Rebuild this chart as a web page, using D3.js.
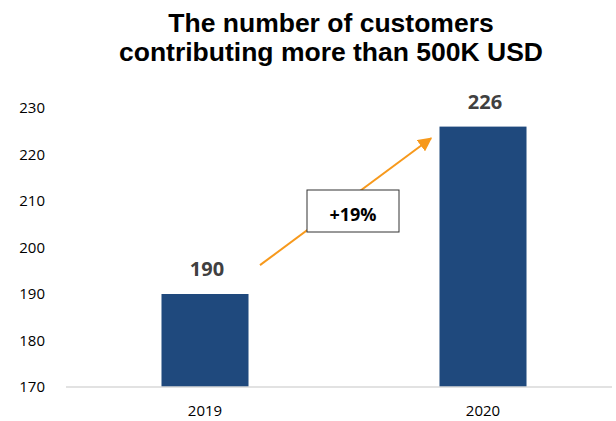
<!DOCTYPE html>
<html>
<head>
<meta charset="utf-8">
<script src="https://cdn.jsdelivr.net/npm/d3@7"></script>
<style>
  body { margin: 0; background: #fff; }
</style>
</head>
<body>
<div id="chart"></div>
<script>
// data
var years = ["2019", "2020"];
var customers = [190, 226];
var yTicks = [170, 180, 190, 200, 210, 220, 230];
var titleLines = ["The number of customers", "contributing more than 500K USD"];
var growthLabel = "+19%";

var W = 616, H = 421;

var svg = d3.select("#chart")
  .append("svg")
    .attr("width", W)
    .attr("height", H);

// scales
var x = d3.scaleBand().domain(years).range([66, 622]).padding(0);
var y = d3.scaleLinear().domain([170, 230]).range([387, 108]);
var barW = x.bandwidth() * 0.313;

// title
svg.append("text")
  .attr("text-anchor", "middle")
  .attr("font-family", "Liberation Sans, Arial, sans-serif")
  .attr("font-weight", "bold")
  .attr("font-size", 26.5)
  .attr("fill", "#000")
  .selectAll("tspan")
  .data(titleLines)
  .enter()
  .append("tspan")
    .attr("x", 331)
    .attr("y", function (d, i) { return 32 + i * 29; })
    .text(function (d) { return d; });

// y axis, labels only
var yAxis = svg.append("g")
  .attr("transform", "translate(45,0)")
  .call(d3.axisLeft(y).tickValues(yTicks).tickSize(0).tickPadding(0));
yAxis.select(".domain").remove();
yAxis.selectAll("text")
  .attr("font-family", "Open Sans, sans-serif")
  .attr("font-size", 15)
  .attr("fill", "#000");

// bars
svg.append("g")
  .selectAll("rect")
  .data(years)
  .enter()
  .append("rect")
    .attr("x", function (d) { return x(d) + (x.bandwidth() - barW) / 2; })
    .attr("y", function (d, i) { return y(customers[i]); })
    .attr("width", barW)
    .attr("height", function (d, i) { return y(170) - y(customers[i]); })
    .attr("fill", "#1f497d");

// value labels
svg.append("g")
  .selectAll("text")
  .data(years)
  .enter()
  .append("text")
    .attr("x", function (d) { return x(d) + x.bandwidth() / 2 + 2; })
    .attr("y", function (d, i) { return y(customers[i]) - 18; })
    .attr("text-anchor", "middle")
    .attr("font-family", "Open Sans, sans-serif")
    .attr("font-weight", "bold")
    .attr("font-size", 20)
    .attr("fill", "#404040")
    .text(function (d, i) { return customers[i]; });

// x axis line
svg.append("line")
  .attr("x1", 66).attr("x2", 612)
  .attr("y1", y(170)).attr("y2", y(170))
  .attr("stroke", "#d9d9d9")
  .attr("stroke-width", 1.5);

// x axis labels
var xAxis = svg.append("g")
  .attr("transform", "translate(0," + y(170) + ")")
  .call(d3.axisBottom(x).tickSize(0).tickPadding(18));
xAxis.select(".domain").remove();
xAxis.selectAll("text")
  .attr("font-family", "Open Sans, sans-serif")
  .attr("font-size", 15)
  .attr("fill", "#000");

// growth arrow
svg.append("defs").append("marker")
  .attr("id", "head")
  .attr("viewBox", "0 0 10 10")
  .attr("refX", 9).attr("refY", 5)
  .attr("markerWidth", 7).attr("markerHeight", 7)
  .attr("markerUnits", "strokeWidth")
  .attr("orient", "auto")
  .append("path")
    .attr("d", "M0,0 L10,5 L0,10 Z")
    .attr("fill", "#f7991c");

svg.append("line")
  .attr("x1", x("2019") + x.bandwidth() / 2 + 55)
  .attr("y1", y(196.2))
  .attr("x2", x("2020") + x.bandwidth() / 2 - 52)
  .attr("y2", y(223.5))
  .attr("stroke", "#f7991c")
  .attr("stroke-width", 2)
  .attr("marker-end", "url(#head)");

// growth label box
svg.append("rect")
  .attr("x", 307).attr("y", 190)
  .attr("width", 92).attr("height", 42)
  .attr("fill", "#fff")
  .attr("stroke", "#333")
  .attr("stroke-width", 1);

svg.append("text")
  .attr("x", 353).attr("y", 221)
  .attr("text-anchor", "middle")
  .attr("font-family", "Open Sans, sans-serif")
  .attr("font-weight", "bold")
  .attr("font-size", 18)
  .attr("fill", "#000")
  .text(growthLabel);
</script>
</body>
</html>
